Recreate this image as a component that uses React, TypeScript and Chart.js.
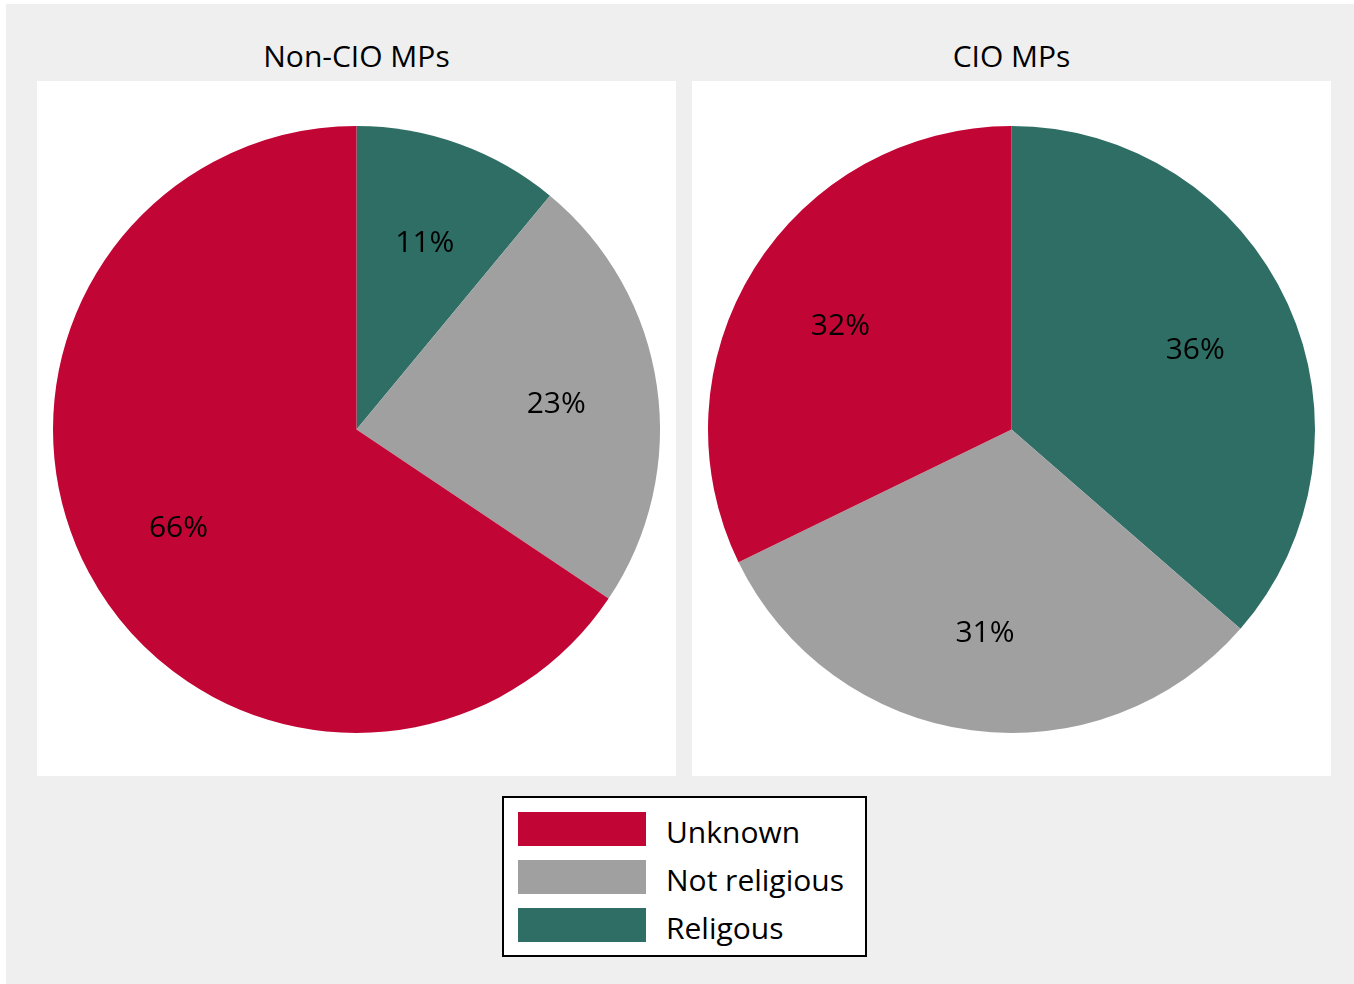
import React, { useEffect, useRef } from "react";
import { Chart, registerables } from "chart.js";

Chart.register(...registerables);

// ---- data ----
const categories = ["Unknown", "Not religious", "Religous"];
const sliceColors = ["#c10534", "#a0a0a0", "#2e6e65"];
const panelTitles = ["Non-CIO MPs", "CIO MPs"];
const nonCioValues = [65.6, 23.4, 11.0];
const cioValues = [32.2, 31.4, 36.4];

const FONT = "'Open Sans', 'Noto Sans', sans-serif";
const FS = 30;

const labelPlugin = {
  id: "sliceLabels",
  afterDatasetsDraw(chart: any) {
    const ctx = chart.ctx;
    const meta = chart.getDatasetMeta(0);
    const vals = chart.data.datasets[0].data as number[];
    ctx.save();
    ctx.font = `${FS}px ${FONT}`;
    ctx.fillStyle = "#000";
    ctx.textAlign = "center";
    ctx.textBaseline = "alphabetic";
    meta.data.forEach((arc: any, i: number) => {
      const p = arc.getProps(["x", "y", "startAngle", "endAngle", "outerRadius"], true);
      const mid = (p.startAngle + p.endAngle) / 2;
      const r = p.outerRadius * 0.665;
      const cx = p.x + Math.cos(mid) * r;
      const cy = p.y + Math.sin(mid) * r;
      ctx.fillText(`${Math.round(vals[i])}%`, cx, cy + FS * 0.357 + 2);
    });
    ctx.restore();
  },
};

function PiePanel({ values }: { values: number[] }) {
  const ref = useRef<HTMLCanvasElement>(null);
  useEffect(() => {
    if (!ref.current) return;
    // drawn counter-clockwise from top in the reference -> reverse for Chart.js (clockwise)
    const chart = new Chart(ref.current, {
      type: "pie",
      data: {
        labels: [...categories].reverse(),
        datasets: [
          {
            data: [...values].reverse(),
            backgroundColor: [...sliceColors].reverse(),
            borderWidth: 0,
          },
        ],
      },
      options: {
        responsive: false,
        animation: false,
        layout: { padding: { top: 17, bottom: 15, left: 16, right: 16 } },
        plugins: { legend: { display: false }, tooltip: { enabled: false } },
      },
      plugins: [labelPlugin],
    });
    return () => chart.destroy();
  }, [values]);
  return <canvas ref={ref} width={639} height={695} style={{ display: "block" }} />;
}

export default function App() {
  const panels = [
    { left: 31, values: nonCioValues, title: panelTitles[0] },
    { left: 686, values: cioValues, title: panelTitles[1] },
  ];
  return (
    <div
      style={{
        position: "absolute",
        left: 6,
        top: 4,
        width: 1348,
        height: 980,
        background: "#efefef",
        fontFamily: FONT,
        color: "#000",
      }}
    >
      {panels.map((p, i) => (
        <React.Fragment key={i}>
          <div
            style={{
              position: "absolute",
              left: p.left,
              top: 37,
              width: 639,
              textAlign: "center",
              fontSize: FS,
              lineHeight: `${FS}px`,
              whiteSpace: "nowrap",
            }}
          >
            {p.title}
          </div>
          <div
            style={{
              position: "absolute",
              left: p.left,
              top: 77,
              width: 639,
              height: 695,
              background: "#fff",
            }}
          >
            <PiePanel values={p.values} />
          </div>
        </React.Fragment>
      ))}
      <div
        style={{
          position: "absolute",
          left: 496,
          top: 792,
          width: 361,
          height: 157,
          background: "#fff",
          border: "2px solid #000",
        }}
      >
        {categories.map((c, i) => (
          <div key={c} style={{ position: "absolute", left: 14, top: 14 + i * 48, height: 34, display: "flex", alignItems: "center" }}>
            <div style={{ width: 128, height: 34, background: sliceColors[i] }} />
            <div style={{ marginLeft: 20, fontSize: FS, lineHeight: "34px", whiteSpace: "nowrap", position: "relative", top: 3 }}>{c}</div>
          </div>
        ))}
      </div>
    </div>
  );
}
